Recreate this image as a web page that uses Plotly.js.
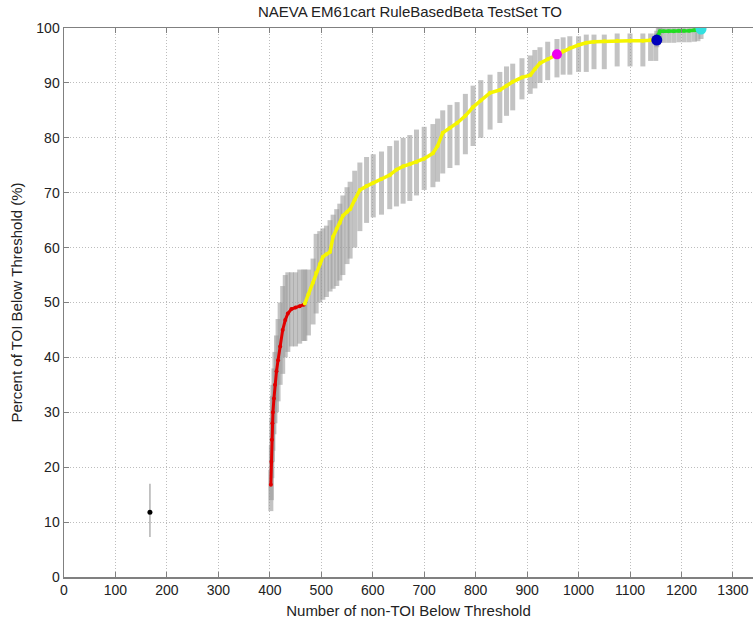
<!DOCTYPE html>
<html>
<head>
<meta charset="utf-8">
<script src="https://cdn.plot.ly/plotly-3.0.1.min.js"></script>
<style>html,body{margin:0;padding:0;background:#fff;}#chart{width:753px;height:625px;}</style>
</head>
<body>
<div id="chart"></div>
<script>
// ---- data ----
const titleText = "NAEVA EM61cart RuleBasedBeta TestSet TO";
const xTitle = "Number of non-TOI Below Threshold";
const yTitle = "Percent of TOI Below Threshold (%)";
const xTicks = [0,100,200,300,400,500,600,700,800,900,1000,1100,1200,1300];
const yTicks = [0,10,20,30,40,50,60,70,80,90,100];

// isolated first point (black)
const blackX = [167];
const blackY = [11.8];
const blackLo = [7.3];
const blackHi = [17];

// red segment
const redX  = [402,403,404,405,406,408,410,413,416,420,425,430,435,442,450,458,466];
const redY  = [16.8,21,25,28,30,32.5,35,37.5,39.5,42,45,46.8,48,48.8,49.1,49.3,49.6];
const redLo = [12,14,18,21,23,26,28,30,32,35,37,40,41,42,42,42.5,43];
const redHi = [19.5,24,29,33,35,38,41,44,47,50,53,55,55.5,55.5,55.5,56,56];

// yellow segment
const yelX  = [468,475,484,490,497,503,510,517,523,530,536,542,550,556,565,575,588,601,617,633,646,659,672,685,700,717,726,736,750,764,780,795,810,828,847,860,872,890,906,915,925,940,958,970,983,1000,1015,1030,1050,1075,1100,1125,1140,1150];
const yelY  = [49.8,51.5,53.6,55.4,57,58.3,58.8,59.2,62,63.5,64.5,65.8,66.5,67,68.7,70.5,71.2,71.8,72.5,73.2,74.2,74.8,75.2,75.6,76.2,77.2,78.5,80.9,81.8,82.7,84,85.6,86.8,88.2,88.7,89.5,90.2,91,91.4,92.5,93.6,94.3,95.1,95.8,96.3,96.9,97.3,97.5,97.6,97.7,97.7,97.7,97.8,97.8];
const yelLo = [43,44,46,48,50,50.5,51,52,52.5,53,54,55,57,58,60,63,64.5,65.5,66,67,67.5,68,68.5,69.5,70.5,71,72,73.5,74.5,75,77,78.5,80,81.5,82.7,84,85,87,88,89,90,90.5,91,91.5,91.5,92,92,92.5,92.5,93,93,93,94,94];
const yelHi = [56,56,58,62.5,63,63.5,64,65,66,67,68,69.5,71,72,74,75.5,76.5,77,77.5,78.5,79.5,80,80.5,81.5,82,82.5,83.5,85,86,86.5,88,89.5,90.5,91.5,92,93,93.5,94.5,95,96,96.5,97.5,98,98.3,98.5,98.5,98.8,98.8,98.8,99,99,99,99,99];

// green segment
const grnX  = [1152,1155,1158,1165,1175,1185,1195,1205,1215,1225,1232,1238];
const grnY  = [97.8,98.8,99.4,99.4,99.4,99.4,99.5,99.5,99.5,99.6,99.6,99.8];
const grnLo = [96.5,97,97.3,97.3,97.3,97.3,97.4,97.4,97.4,97.5,97.6,98];
const grnHi = [99.5,100,100,100,100,100,100,100,100,100,100,100];

// highlighted threshold points
const magX = [958],  magY = [95.2];
const bluX = [1152], bluY = [97.8];
const cyaX = [1238], cyaY = [99.8];

// ---- build CI bars ----
const ciX = [].concat(redX, yelX, grnX);
const ciY = [].concat(redY, yelY, grnY);
const ciLo = [].concat(redLo, yelLo, grnLo);
const ciHi = [].concat(redHi, yelHi, grnHi);

function ciTrace(xs, ys, lo, hi, thick, col) {
  return {
    x: xs, y: ys, type: 'scatter', mode: 'markers',
    marker: {size: 1, color: 'rgba(0,0,0,0)'},
    error_y: {
      type: 'data', symmetric: false,
      array: ys.map((v,i) => hi[i] - v),
      arrayminus: ys.map((v,i) => v - lo[i]),
      color: col, thickness: thick, width: 0
    },
    hoverinfo: 'skip'
  };
}

const traces = [
  ciTrace(blackX, blackY, blackLo, blackHi, 1.5, 'rgba(170,170,170,0.9)'),
  ciTrace(ciX, ciY, ciLo, ciHi, 5, 'rgba(155,155,155,0.6)'),
  {x: blackX, y: blackY, type: 'scatter', mode: 'markers', marker: {size: 5, color: '#000'}},
  {x: redX, y: redY, type: 'scatter', mode: 'lines+markers', line: {color: '#e00000', width: 3}, marker: {size: 4, color: '#e00000'}},
  {x: yelX, y: yelY, type: 'scatter', mode: 'lines+markers', line: {color: '#f5f500', width: 3.5}, marker: {size: 4, color: '#f5f500'}},
  {x: grnX, y: grnY, type: 'scatter', mode: 'lines+markers', line: {color: '#22dd22', width: 3.5}, marker: {size: 4, color: '#22dd22'}},
  {x: magX, y: magY, type: 'scatter', mode: 'markers', marker: {size: 10, color: '#ee00ee'}},
  {x: bluX, y: bluY, type: 'scatter', mode: 'markers', marker: {size: 11, color: '#0000bb'}},
  {x: cyaX, y: cyaY, type: 'scatter', mode: 'markers', marker: {size: 11, color: '#33e0e0'}}
];

const axisCommon = {
  showgrid: true, gridcolor: '#bdbdbd', griddash: '1px,2px', gridwidth: 1,
  showline: true, linecolor: '#808080', linewidth: 1.5,
  ticks: 'inside', ticklen: 5, tickcolor: '#808080', tickwidth: 1,
  zeroline: false,
  tickfont: {family: 'Liberation Sans, Arial, sans-serif', size: 14, color: '#222'}
};

const layout = {
  width: 753, height: 625,
  margin: {l: 64, r: 0, t: 28, b: 48},
  paper_bgcolor: '#fff', plot_bgcolor: '#fff',
  showlegend: false,
  font: {family: 'Liberation Sans, Arial, sans-serif', color: '#222'},
  title: {text: titleText, x: 410/753, xref: 'container', xanchor: 'center', y: 1 - 12/625, yref: 'container', yanchor: 'middle',
          font: {size: 15, color: '#222'}},
  xaxis: Object.assign({}, axisCommon, {
    range: [0, 1339], tickvals: xTicks, ticktext: xTicks.map(String), mirror: 'ticks',
    title: {text: xTitle, font: {size: 15, color: '#222'}, standoff: 8}
  }),
  yaxis: Object.assign({}, axisCommon, {
    range: [0, 100], tickvals: yTicks, ticktext: yTicks.map(String), mirror: false,
    title: {text: yTitle, font: {size: 15, color: '#222'}, standoff: 10}
  })
};

Plotly.newPlot('chart', traces, layout, {staticPlot: true, displayModeBar: false});
</script>
</body>
</html>
